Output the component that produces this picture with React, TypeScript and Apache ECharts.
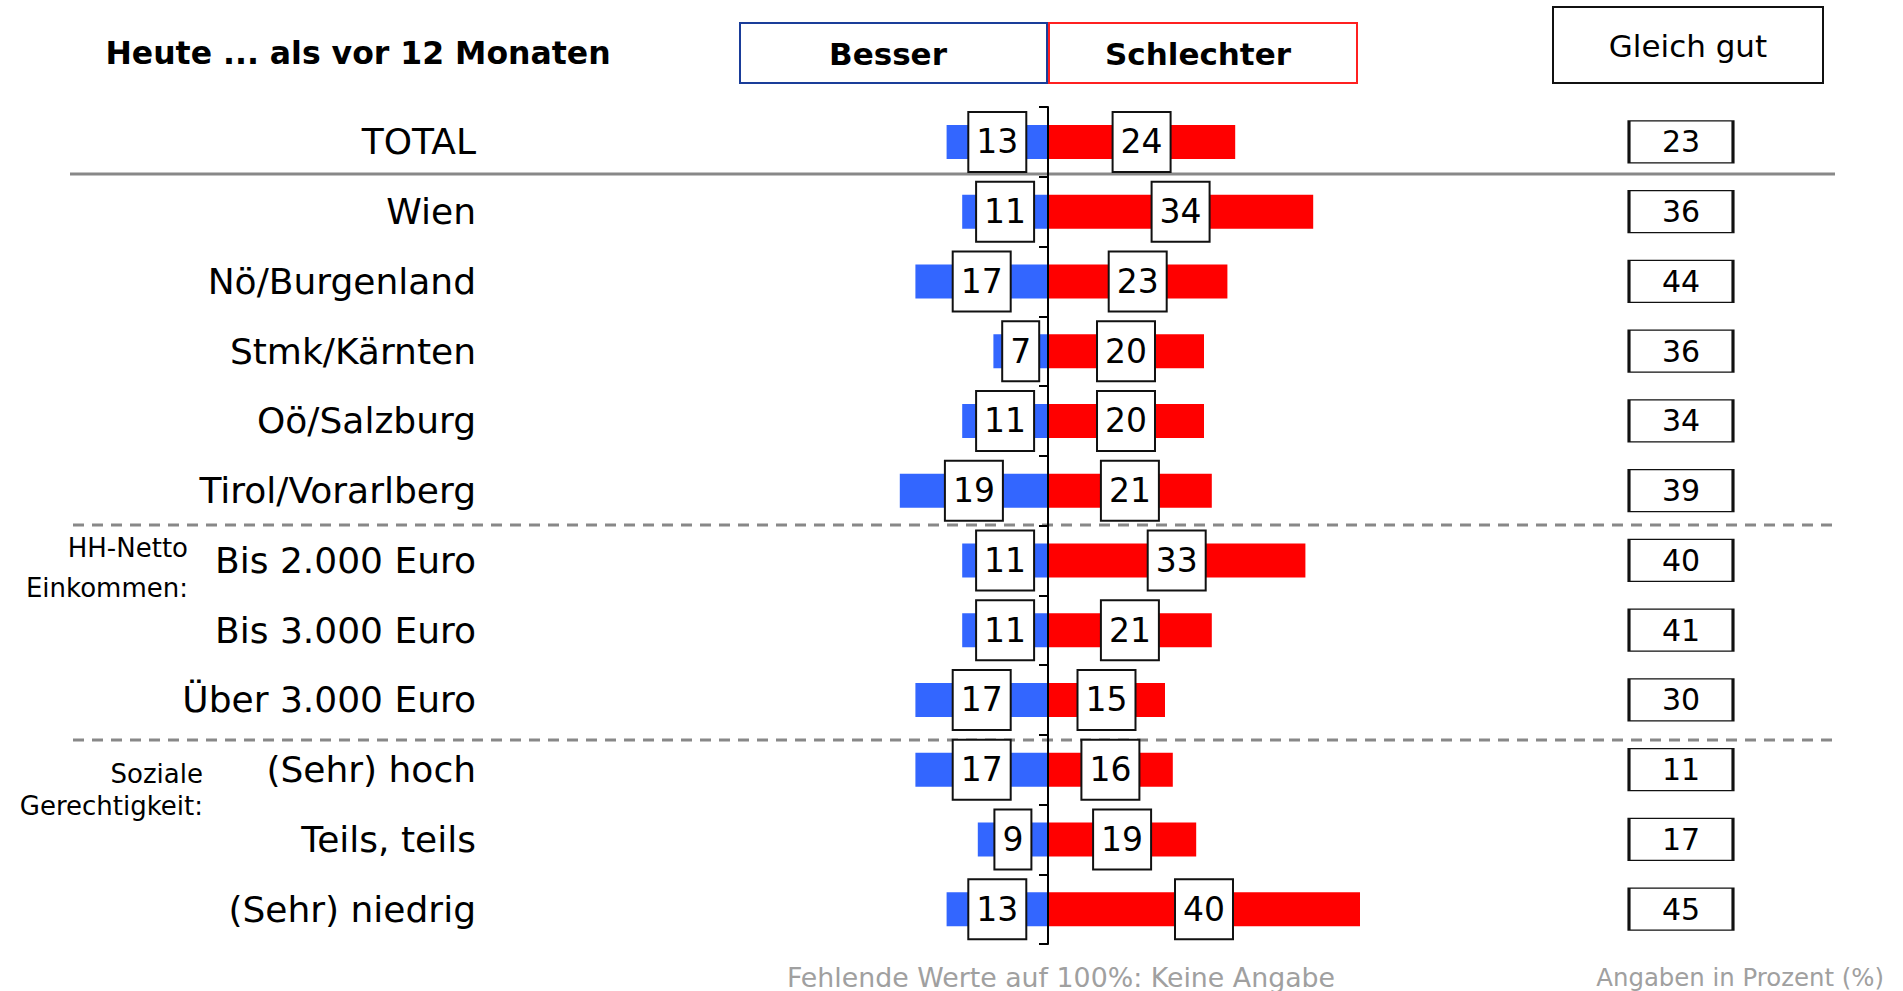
import React, { useEffect, useRef } from "react";
import * as echarts from "echarts";

const categories = [
  "TOTAL",
  "Wien",
  "Nö/Burgenland",
  "Stmk/Kärnten",
  "Oö/Salzburg",
  "Tirol/Vorarlberg",
  "Bis 2.000 Euro",
  "Bis 3.000 Euro",
  "Über 3.000 Euro",
  "(Sehr) hoch",
  "Teils, teils",
  "(Sehr) niedrig",
];
const besser = [13, 11, 17, 7, 11, 19, 11, 11, 17, 17, 9, 13];
const schlechter = [24, 34, 23, 20, 20, 21, 33, 21, 15, 16, 19, 40];
const gleichGut = [23, 36, 44, 36, 34, 39, 40, 41, 30, 11, 17, 45];

const FONT = "DejaVu Sans";

export default function App() {
  const ref = useRef<HTMLDivElement>(null);
  useEffect(() => {
    if (!ref.current) return;
    const chart = echarts.init(ref.current, null, { renderer: "svg" });
    const boxLabel = {
      show: true,
      position: "inside",
      color: "#000",
      fontFamily: FONT,
      fontSize: 33,
      backgroundColor: "#fff",
      borderColor: "#111",
      borderWidth: 2,
      padding: [13, 7, 12, 7],
      formatter: (p: any) => String(Math.abs(p.value)),
    };
    const txt = (text: string, x: number, y: number, font: string, align = "center", fill = "#000") => ({
      type: "text",
      x,
      y,
      style: { text, align, verticalAlign: "middle", fill, font },
    });
    const option: any = {
      animation: false,
      textStyle: { fontFamily: FONT },
      grid: [
        { left: 736, width: 780, top: 107, height: 837, containLabel: false, outerBoundsMode: "none" },
        { left: 1629, width: 104, top: 107, height: 837, containLabel: false, outerBoundsMode: "none" },
      ],
      xAxis: [
        {
          type: "value",
          gridIndex: 0,
          min: -40,
          max: 60,
          show: false,
          splitLine: { show: false },
        },
        {
          type: "category",
          gridIndex: 1,
          data: ["Gleich gut"],
          show: false,
        },
      ],
      yAxis: [
        {
          type: "category",
          gridIndex: 0,
          data: categories,
          inverse: true,
          axisLine: { show: true, onZero: true, lineStyle: { color: "#000", width: 2 } },
          axisTick: { show: true, length: 9, lineStyle: { color: "#000", width: 2 } },
          axisLabel: {
            margin: 260,
            color: "#000",
            fontFamily: FONT,
            fontSize: 36,
          },
          z: 10,
        },
        {
          type: "category",
          gridIndex: 1,
          data: categories,
          inverse: true,
          show: false,
        },
      ],
      series: [
        {
          name: "Besser",
          type: "bar",
          stack: "total",
          xAxisIndex: 0,
          yAxisIndex: 0,
          barWidth: 34,
          itemStyle: { color: "#3366FF" },
          data: besser.map((v) => -v),
          label: boxLabel,
        },
        {
          name: "Schlechter",
          type: "bar",
          stack: "total",
          xAxisIndex: 0,
          yAxisIndex: 0,
          barWidth: 34,
          itemStyle: { color: "#FF0000" },
          data: schlechter,
          label: boxLabel,
        },
        {
          name: "Gleich gut",
          type: "scatter",
          xAxisIndex: 1,
          yAxisIndex: 1,
          symbol: "rect",
          symbolSize: [104, 42],
          itemStyle: { color: "#fff", borderColor: "#111", borderWidth: 2, opacity: 1 },
          data: categories.map((c, i) => ["Gleich gut", c, gleichGut[i]]),
          encode: { x: 0, y: 1 },
          label: {
            show: true,
            position: "inside",
            color: "#000",
            fontFamily: FONT,
            fontSize: 30,
            formatter: (p: any) => String(p.value[2]),
          },
        },
      ],
      graphic: [
        txt("Heute ... als vor 12 Monaten", 358, 53, `bold 31.5px '${FONT}'`),
        {
          type: "rect",
          shape: { x: 740, y: 23, width: 307, height: 60 },
          style: { fill: "#fff", stroke: "#1a3d99", lineWidth: 2 },
        },
        {
          type: "rect",
          shape: { x: 1049, y: 23, width: 308, height: 60 },
          style: { fill: "#fff", stroke: "#ff2020", lineWidth: 2 },
        },
        txt("Besser", 888, 54, `bold 31px '${FONT}'`),
        txt("Schlechter", 1198, 54, `bold 31px '${FONT}'`),
        {
          type: "rect",
          shape: { x: 1553, y: 7, width: 270, height: 76 },
          style: { fill: "#fff", stroke: "#111", lineWidth: 2 },
        },
        txt("Gleich gut", 1688, 46, `31px '${FONT}'`),
        {
          type: "line",
          shape: { x1: 70, y1: 174, x2: 1835, y2: 174 },
          style: { stroke: "#888", lineWidth: 3 },
        },
        {
          type: "line",
          shape: { x1: 73, y1: 525, x2: 1839, y2: 525 },
          style: { stroke: "#888", lineWidth: 3, lineDash: [11, 8] },
        },
        {
          type: "line",
          shape: { x1: 73, y1: 740, x2: 1839, y2: 740 },
          style: { stroke: "#888", lineWidth: 3, lineDash: [11, 8] },
        },
        txt("HH-Netto", 188, 548, `26px '${FONT}'`, "right"),
        txt("Einkommen:", 188, 588, `26px '${FONT}'`, "right"),
        txt("Soziale", 203, 774, `26px '${FONT}'`, "right"),
        txt("Gerechtigkeit:", 203, 806, `26px '${FONT}'`, "right"),
        txt("Fehlende Werte auf 100%: Keine Angabe", 1061, 977, `26.8px '${FONT}'`, "center", "#a0a0a0"),
        txt("Angaben in Prozent (%)", 1884, 977, `24.4px '${FONT}'`, "right", "#a0a0a0"),
      ],
    };
    chart.setOption(option);
    return () => chart.dispose();
  }, []);
  return (
    <div
      ref={ref}
      style={{ position: "fixed", left: 0, top: 0, width: 1903, height: 991, background: "#fff" }}
    />
  );
}
